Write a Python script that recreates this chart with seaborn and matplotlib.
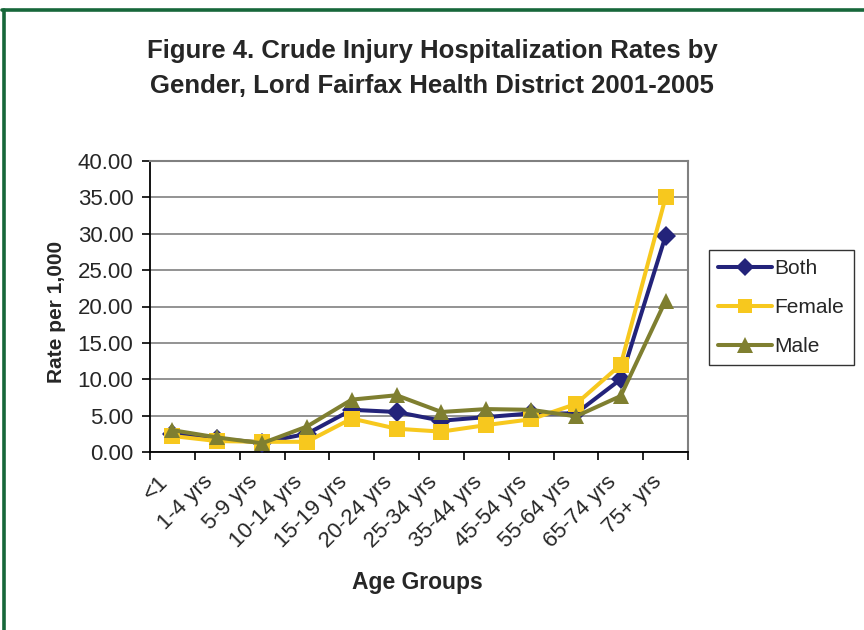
import matplotlib
matplotlib.use("Agg")
import matplotlib.pyplot as plt
import seaborn as sns
import pandas as pd
from matplotlib.lines import Line2D
from matplotlib.ticker import FixedLocator, FormatStrFormatter

sns.set_theme(style="white")
plt.rcParams['font.family'] = ['Liberation Sans', 'DejaVu Sans']

age_groups = ["<1", "1-4 yrs", "5-9 yrs", "10-14 yrs", "15-19 yrs", "20-24 yrs",
              "25-34 yrs", "35-44 yrs", "45-54 yrs", "55-64 yrs", "65-74 yrs", "75+ yrs"]
both = [2.5, 1.8, 1.3, 2.5, 5.8, 5.5, 4.3, 4.8, 5.3, 5.3, 10.0, 29.7]
female = [2.2, 1.5, 1.4, 1.4, 4.6, 3.2, 2.8, 3.7, 4.5, 6.6, 12.0, 35.0]
male = [3.0, 2.0, 1.2, 3.5, 7.2, 7.8, 5.5, 5.9, 5.8, 4.9, 7.7, 20.8]
series_names = ["Both", "Female", "Male"]

df = pd.DataFrame({
    "Age": age_groups * 3,
    "Rate": both + female + male,
    "Series": [s for s in series_names for _ in age_groups],
})
df["pos"] = [i for _ in series_names for i in range(len(age_groups))]

palette = {"Both": "#23237a", "Female": "#f7c81e", "Male": "#7f7f30"}
markers = {"Both": "D", "Female": "s", "Male": "^"}
msize = {"Both": 10, "Female": 11, "Male": 12}

fig = plt.figure(figsize=(8.64, 6.3), dpi=100)
ax = fig.add_axes([150/864, 1-452/630, (688-150)/864, (452-161)/630])

for name in series_names:
    sub = df[df["Series"] == name]
    sns.lineplot(data=sub, x="pos", y="Rate", ax=ax, color=palette[name],
                 marker=markers[name], markersize=msize[name], linewidth=2.9,
                 markeredgewidth=0, label=name, legend=False, zorder=3)

ax.set_xlim(-0.5, len(age_groups) - 0.5)
ax.set_ylim(0, 40)
ax.yaxis.set_major_locator(FixedLocator([0, 5, 10, 15, 20, 25, 30, 35, 40]))
ax.yaxis.set_major_formatter(FormatStrFormatter("%.2f"))
ax.grid(axis="y", color="#808080", linewidth=1.2)
ax.set_axisbelow(True)

# x ticks at category boundaries, labels at centers
ax.set_xticks([i - 0.5 for i in range(len(age_groups) + 1)])
ax.set_xticklabels([])
ax.set_xticks(list(range(len(age_groups))), minor=True)
ax.set_xticklabels(age_groups, minor=True, rotation=45, ha="right", fontsize=16)
ax.tick_params(axis="x", which="major", direction="out", length=6, width=1.2,
               color="black", bottom=True)
ax.tick_params(axis="x", which="minor", length=0, pad=14)
ax.tick_params(axis="y", direction="out", length=6, width=1.2, color="black",
               left=True, labelsize=16, pad=6)

for s in ["left", "bottom"]:
    ax.spines[s].set_color("black")
    ax.spines[s].set_linewidth(1.3)
for s in ["top", "right"]:
    ax.spines[s].set_visible(True)
    ax.spines[s].set_color("#808080")
    ax.spines[s].set_linewidth(1.5)

ax.set_xlabel("")
ax.set_ylabel("")
fig.text(57/864, 1-312/630, "Rate per 1,000", rotation=90, ha="center", va="center",
         fontsize=15, fontweight="bold")
fig.text(417/864, 1-582/630, "Age Groups", ha="center", va="center",
         fontsize=16.5, fontweight="bold")

fig.text(432/864, 1-51/630, "Figure 4. Crude Injury Hospitalization Rates by",
         ha="center", va="center", fontsize=18.5, fontweight="bold")
fig.text(432/864, 1-86/630, "Gender, Lord Fairfax Health District 2001-2005",
         ha="center", va="center", fontsize=18.5, fontweight="bold")

handles = [Line2D([], [], color=palette[n], marker=markers[n], markersize=msize[n] - 1,
                  linewidth=2.9, markeredgewidth=0) for n in series_names]
leg = fig.legend(handles, series_names, loc="upper left",
                 bbox_to_anchor=(709/864, 1-250/630), fontsize=15, frameon=True,
                 fancybox=False, handlelength=2.55, handletextpad=0.15,
                 labelspacing=0.95, borderpad=0.45, borderaxespad=0)
leg.get_frame().set_edgecolor("black")
leg.get_frame().set_linewidth(1.0)

# green page border (top and left)
fig.add_artist(Line2D([2/864, 1], [1-9.5/630, 1-9.5/630], color="#17673a",
                      linewidth=2.6, transform=fig.transFigure))
fig.add_artist(Line2D([4/864, 4/864], [0, 1-9.5/630], color="#17673a",
                      linewidth=2.6, transform=fig.transFigure))

fig.savefig("out.png", dpi=100, facecolor="white")
